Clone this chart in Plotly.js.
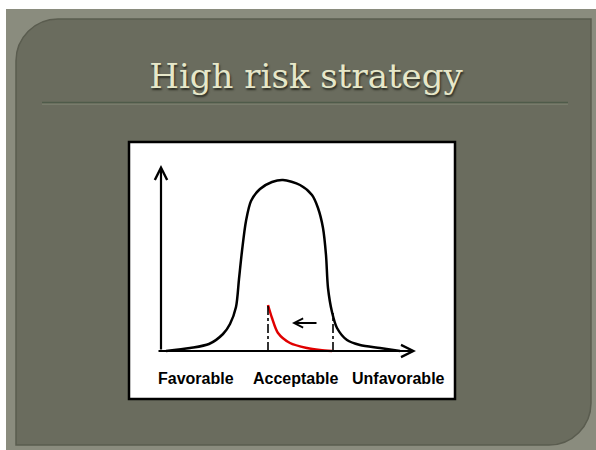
<!DOCTYPE html>
<html>
<head>
<meta charset="utf-8">
<script src="https://cdn.plot.ly/plotly-3.0.1.min.js"></script>
<style>html,body{margin:0;padding:0;background:#fff;}#chart{width:596px;height:450px;}</style>
</head>
<body>
<div id="chart"></div>
<script>
// Distribution curve (chart units: x along the outcome axis, y = frequency)
const curveX = [5, 29, 48, 62, 69, 75, 78, 81, 85, 90, 99, 111, 122, 139, 151, 157, 162, 165, 167, 171, 176, 186, 199, 219, 239];
const curveY = [0, 3, 7, 17, 27, 44, 72, 100, 130, 150, 162, 169, 171, 166, 156, 143, 123, 96, 63, 39, 23, 11, 6, 3, 0];
// Shifted (red) tail
const tailX = [107, 111, 117, 129, 146, 159, 171];
const tailY = [46, 33, 18, 8, 3, 1, 0];
// Threshold markers
const cutLeftX = [107, 107];
const cutLeftY = [0, 46];
const cutRightX = [172, 172];
const cutRightY = [0, 38];
// Category labels under the axis
const labelX = [34.5, 134, 237];
const labelText = ['Favorable', 'Acceptable', 'Unfavorable'];
const titleText = 'High risk strategy';

const W = 596, H = 450;
function P(px, py) { return (px / W).toFixed(5) + ',' + (1 - py / H).toFixed(5); }

const L = 16, T = 19, R = 591, B = 445, r = 42, k = 0.5523 * r;
const panelPath = 'M' + P(L, T + r) + ' C' + P(L, T + r - k) + ' ' + P(L + r - k, T) + ' ' + P(L + r, T) +
  ' L' + P(R, T) + ' L' + P(R, B - r) + ' C' + P(R, B - r + k) + ' ' + P(R - r + k, B) + ' ' + P(R - r, B) +
  ' L' + P(L, B) + ' Z';

const traces = [
  {x: curveX, y: curveY, mode: 'lines', line: {color: '#000', width: 2.5, shape: 'spline', smoothing: 0.8}, hoverinfo: 'skip'},
  {x: tailX, y: tailY, mode: 'lines', line: {color: '#e00000', width: 2.5, shape: 'spline', smoothing: 0.8}, hoverinfo: 'skip'},
  {x: cutLeftX, y: cutLeftY, mode: 'lines', line: {color: '#000', width: 1.6, dash: 'dashdot'}, hoverinfo: 'skip'},
  {x: cutRightX, y: cutRightY, mode: 'lines', line: {color: '#000', width: 1.6, dash: 'dashdot'}, hoverinfo: 'skip'}
];

const annotations = [
  // y axis arrow
  {x: 0, y: 186, ax: 0, ay: 0, xref: 'x', yref: 'y', axref: 'x', ayref: 'y', showarrow: true, arrowhead: 5, arrowsize: 1.1, arrowwidth: 2.2, arrowcolor: '#000', text: ''},
  // x axis arrow
  {x: 255, y: 0, ax: -4, ay: 0, xref: 'x', yref: 'y', axref: 'x', ayref: 'y', showarrow: true, arrowhead: 5, arrowsize: 1.1, arrowwidth: 2.2, arrowcolor: '#000', text: ''},
  // shift arrow
  {x: 131, y: 28, ax: 157, ay: 28, xref: 'x', yref: 'y', axref: 'x', ayref: 'y', showarrow: true, arrowhead: 5, arrowsize: 1, arrowwidth: 1.8, arrowcolor: '#000', text: ''}
];
labelText.forEach(function (t, i) {
  annotations.push({x: labelX[i], y: -27, xref: 'x', yref: 'y', text: t, showarrow: false,
    xanchor: 'center', yanchor: 'middle',
    font: {family: 'Liberation Sans, Arial, sans-serif', size: 16, color: '#000', weight: 'bold'}});
});

const shapes = [
  {type: 'rect', xref: 'paper', yref: 'paper', x0: 6 / W, x1: 1, y0: 0, y1: 1 - 9 / H, fillcolor: '#8a8c7e', line: {width: 0}, layer: 'below'},
  {type: 'path', xref: 'paper', yref: 'paper', path: panelPath, fillcolor: '#6a6c5e', line: {color: '#5a5c4f', width: 1.5}, layer: 'below'},
  {type: 'line', xref: 'paper', yref: 'paper', x0: 42 / W, x1: 568 / W, y0: 1 - 102.5 / H, y1: 1 - 102.5 / H, line: {color: '#4f5b4a', width: 1.5}, layer: 'below'},
  {type: 'line', xref: 'paper', yref: 'paper', x0: 42 / W, x1: 568 / W, y0: 1 - 104.2 / H, y1: 1 - 104.2 / H, line: {color: '#7f8473', width: 1}, layer: 'below'},
  {type: 'rect', xref: 'paper', yref: 'paper', x0: 129 / W, x1: 455 / W, y0: 1 - 399 / H, y1: 1 - 142 / H, fillcolor: '#ffffff', line: {color: '#000', width: 2.5}, layer: 'below'}
];

const layout = {
  width: W, height: H,
  margin: {l: 0, r: 0, t: 0, b: 0, pad: 0},
  paper_bgcolor: '#ffffff',
  plot_bgcolor: 'rgba(0,0,0,0)',
  showlegend: false,
  title: {
    text: titleText, x: 306 / W, xanchor: 'center', y: 1 - 76 / H, yanchor: 'middle',
    font: {family: 'DejaVu Serif, Liberation Serif, serif', size: 34, color: '#e6e7c9', shadow: '1px 2px 2px #2b2c22'}
  },
  xaxis: {range: [-161, 435], domain: [0, 1], showgrid: false, zeroline: false, showticklabels: false, showline: false, ticks: '', fixedrange: true},
  yaxis: {range: [-99, 351], domain: [0, 1], showgrid: false, zeroline: false, showticklabels: false, showline: false, ticks: '', fixedrange: true},
  shapes: shapes,
  annotations: annotations
};

Plotly.newPlot('chart', traces, layout, {staticPlot: true, displayModeBar: false});
</script>
</body>
</html>
